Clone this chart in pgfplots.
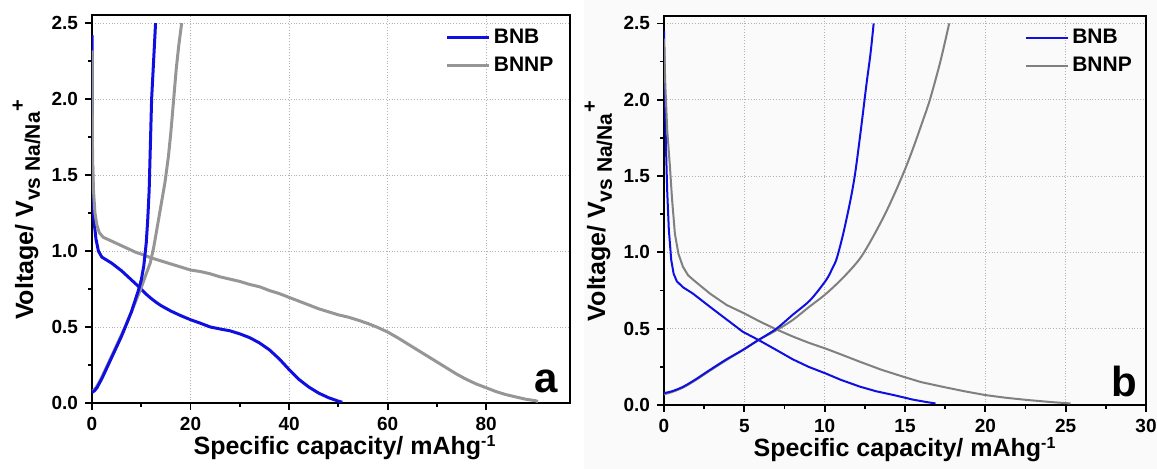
\documentclass[border=0pt]{standalone}
\usepackage{pgfplots}
\pgfplotsset{compat=1.18}
\usepackage{fontspec}
\setmainfont{Liberation Sans}
\definecolor{cblue}{RGB}{15,15,225}
\definecolor{cgraya}{RGB}{150,150,150}
\definecolor{cgrayb}{RGB}{128,128,128}
\pgfplotsset{
  panel/.style={
    scale only axis, anchor=south west,
    ymin=0, ymax=2.55,
    ytick={0,0.5,1.0,1.5,2.0,2.5},
    minor x tick num=1, minor y tick num=1,
    tick align=outside, tick pos=left,
    major tick length=3.5pt, minor tick length=2pt,
    axis line style={line width=1pt},
    every tick/.append style={black, line width=0.9pt},
    grid=major,
    major grid style={densely dotted, black!30, line width=0.5pt},
    yticklabel style={/pgf/number format/.cd, fixed, fixed zerofill, precision=1},
    ticklabel style={font=\bfseries\fontsize{9.5}{11}\selectfont},
    /pgf/number format/assume math mode=true,
    xlabel={\bfseries\fontsize{12.5}{14}\selectfont Specific capacity/ mAhg\textsuperscript{\fontsize{8}{9}\selectfont -1}},
    ylabel={\bfseries\fontsize{12.5}{14}\selectfont Voltage/ V\textsubscript{\fontsize{10.5}{12}\selectfont vs Na/Na}\textsuperscript{\fontsize{10}{12}\selectfont +}},
    xlabel style={at={(axis description cs:0.5,0)}, anchor=base, yshift=-26pt},
    legend cell align=left,
    legend style={draw=none, fill=none, anchor=north east,
      font=\bfseries\fontsize{10.5}{12}\selectfont, row sep=2.5pt,
      nodes={inner sep=1.5pt}},
    legend image code/.code={\draw[#1] (0pt,0pt) -- (21pt,0pt);},
  }
}
\begin{document}
\begin{tikzpicture}
\useasboundingbox (0,0) rectangle (578.5pt,234.5pt);
\fill[black!2] (292pt,0pt) rectangle (578.5pt,234.5pt);
% ---------------- panel a ----------------
\begin{axis}[panel, at={(46pt,33pt)}, width=239pt, height=193.75pt,
  xmin=0, xmax=97, xtick={0,20,40,60,80},
  xlabel style={xshift=7pt},
  ylabel style={at={(axis description cs:-0.1234,0.5)}, anchor=base},
  legend style={at={(0.985,0.985)}}]
\addplot[cblue, line width=1.5pt, line join=round] coordinates {
(0,2.42) (0.03,2.0) (0.08,1.6) (0.2,1.35) (0.4,1.2) (0.8,1.08) (1.3,1.0) (2,0.96) (3,0.94) (4,0.92) (5,0.895) (6,0.87) (7,0.84) (8,0.81) (9,0.78) (10,0.748) (11,0.716) (12,0.688) (13,0.663) (14,0.641) (16,0.605) (18,0.575) (20,0.548) (22,0.525) (24,0.5) (26,0.487) (28,0.475) (30,0.455) (32,0.43) (34,0.395) (36,0.35) (38,0.29) (40,0.22) (42,0.155) (44,0.105) (46,0.065) (48,0.035) (50,0.012) (50.8,0.005)
};
\addlegendentry{BNB}
\addplot[cgraya, line width=1.5pt, line join=round] coordinates {
(0,2.32) (0.05,1.9) (0.12,1.6) (0.3,1.4) (0.6,1.25) (1,1.17) (1.5,1.12) (2.3,1.09) (3,1.08) (5,1.05) (7,1.02) (9,0.99) (10,0.98) (12,0.955) (14,0.935) (16,0.915) (18,0.895) (20,0.875) (22,0.865) (24,0.85) (26,0.83) (28,0.815) (30,0.8) (32,0.78) (34,0.765) (36,0.74) (38,0.72) (40,0.695) (42,0.67) (44,0.645) (46,0.62) (48,0.6) (50,0.58) (52,0.565) (54,0.545) (56,0.523) (58,0.497) (60,0.467) (62,0.43) (64,0.39) (66,0.35) (68,0.31) (70,0.27) (72,0.23) (74,0.19) (76,0.155) (78,0.125) (80,0.1) (82,0.075) (84,0.055) (86,0.04) (88,0.025) (90,0.015) (90.5,0.01)
};
\addlegendentry{BNNP}
\addplot[cgraya, line width=1.5pt, line join=round, forget plot] coordinates {
(0,0.07) (0.5,0.09) (1,0.11) (2,0.17) (3,0.24) (4,0.31) (5,0.38) (6,0.45) (7,0.52) (8,0.6) (9,0.68) (10,0.76) (11,0.85) (11.8,0.92) (12.5,1.02) (13.2,1.15) (14,1.3) (14.8,1.45) (15.5,1.62) (16,1.78) (16.5,1.97) (17.1,2.2) (17.6,2.35) (18.2,2.5)
};
\addplot[cblue, line width=1.5pt, line join=round, forget plot] coordinates {
(0,0.07) (0.5,0.08) (1,0.1) (2,0.16) (3,0.23) (4,0.3) (5,0.37) (6,0.44) (7,0.52) (8,0.6) (9,0.7) (9.5,0.75) (10,0.81) (10.5,0.9) (11,1.05) (11.3,1.2) (11.6,1.4) (12.1,2.0) (12.5,2.25) (12.9,2.5)
};
\node[anchor=base east, inner sep=0pt, font=\bfseries\fontsize{21}{24}\selectfont] at (rel axis cs:0.975,0.026) {a};
\end{axis}
% ---------------- panel b ----------------
\begin{axis}[panel, at={(332pt,32pt)}, width=241pt, height=194.6pt,
  xmin=0, xmax=30, xtick={0,5,10,15,20,25,30},
  ylabel style={at={(axis description cs:-0.1224,0.5)}, anchor=base},
  legend style={at={(0.99,0.985)}}]
\addplot[cblue, line width=1pt, line join=round] coordinates {
(0,2.45) (0.05,2.1) (0.12,1.7) (0.2,1.4) (0.3,1.15) (0.45,0.95) (0.6,0.86) (0.8,0.81) (1.2,0.77) (1.8,0.73) (2.9,0.64) (3.9,0.56) (4.9,0.48) (5.9,0.425) (7,0.36) (8,0.3) (9,0.25) (10.1,0.205) (11,0.165) (12.2,0.12) (13.2,0.09) (14.3,0.065) (15.5,0.035) (16.3,0.02) (16.9,0.01)
};
\addlegendentry{BNB}
\addplot[cgrayb, line width=1pt, line join=round] coordinates {
(0,2.4) (0.08,2.1) (0.2,1.8) (0.37,1.56) (0.5,1.35) (0.68,1.12) (0.9,0.99) (1.18,0.905) (1.5,0.85) (1.82,0.82) (2.86,0.73) (3.9,0.655) (5,0.6) (6,0.545) (7,0.495) (8.05,0.447) (9,0.408) (10.1,0.368) (11,0.332) (12.2,0.283) (13.5,0.232) (14.9,0.185) (16,0.15) (17.4,0.118) (18.7,0.09) (20,0.065) (21.3,0.047) (22.6,0.033) (24,0.02) (25.3,0.01)
};
\addlegendentry{BNNP}
\addplot[cgrayb, line width=1pt, smooth, forget plot] coordinates {
(0,0.07) (0.5,0.085) (1.2,0.115) (2,0.165) (2.86,0.225) (3.9,0.295) (4.9,0.36) (5.87,0.425) (7,0.49) (8,0.556) (9,0.64) (10.1,0.73) (11.2,0.84) (12.2,0.96) (13,1.1) (13.8,1.26) (14.5,1.42) (15.1,1.57) (15.6,1.71) (16.1,1.86) (16.55,2.0) (17.2,2.25) (17.75,2.5)
};
\addplot[cblue, line width=1pt, smooth, forget plot] coordinates {
(0,0.078) (0.5,0.09) (1.2,0.12) (2,0.17) (2.86,0.23) (3.9,0.3) (4.9,0.36) (5.87,0.425) (7,0.5) (8,0.59) (9.1,0.687) (10.1,0.82) (10.5,0.9) (10.75,0.96) (11.15,1.12) (11.6,1.34) (11.9,1.52) (12.25,1.8) (12.6,2.1) (12.85,2.3) (13.05,2.5)
};
\node[anchor=base east, inner sep=0pt, font=\bfseries\fontsize{21}{24}\selectfont] at (rel axis cs:0.983,0.021) {b};
\end{axis}
\end{tikzpicture}
\end{document}
